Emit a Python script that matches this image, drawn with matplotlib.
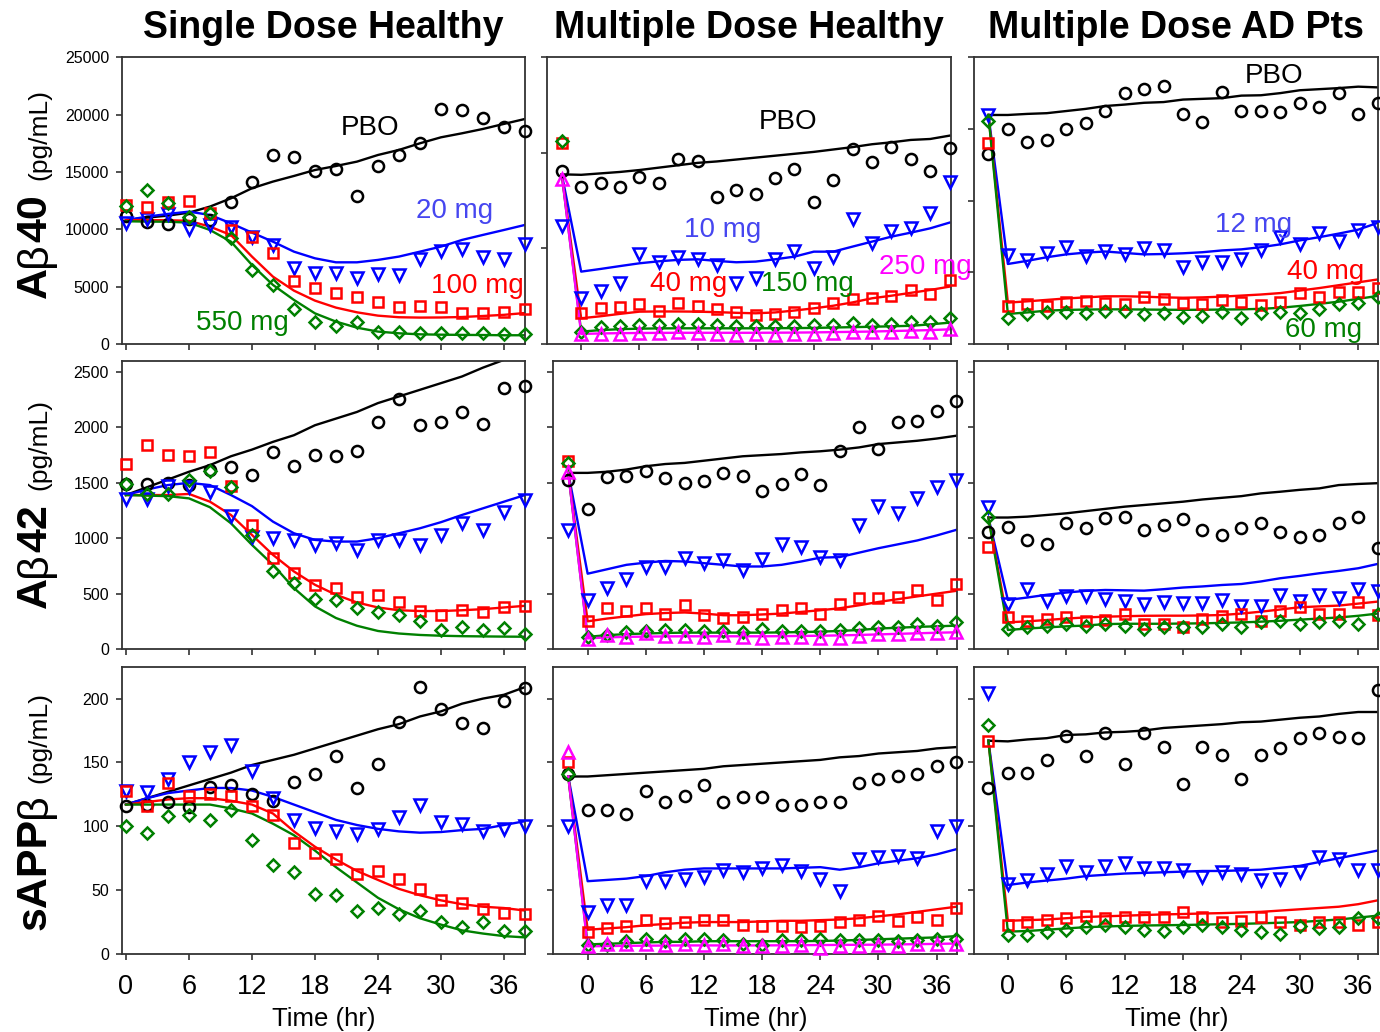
import matplotlib
matplotlib.use('Agg')
import matplotlib.pyplot as plt
from matplotlib import font_manager

installed = {f.name for f in font_manager.fontManager.ttflist}
HAS_NARROW = 'Liberation Sans Narrow' in installed
NARROW = 'Liberation Sans Narrow' if HAS_NARROW else 'Liberation Sans'
plt.rcParams['font.family'] = ['Liberation Sans', 'DejaVu Sans']

# time points (hr)
t_sd = [0, 2, 4, 6, 8, 10, 12, 14, 16, 18, 20, 22, 24, 26, 28, 30, 32, 34, 36, 38]
t_md = [-2, 0, 2, 4, 6, 8, 10, 12, 14, 16, 18, 20, 22, 24, 26, 28, 30, 32, 34, 36, 38]

# ---------------- Abeta40 ----------------
sd40_pbo = [11160, 10610, 10440, 10870, 10810, 12410, 14160, 16450, 16310, 15090, 15230, 12910, 15490, 16450, 17530, 20470, 20380, 19740, 18900, 18610]
sd40_pbo_fit = [10800, 11020, 11190, 11450, 11980, 12700, 13580, 14160, 14650, 15170, 15520, 15900, 16480, 16920, 17500, 18020, 18370, 18750, 19190, 19620]
sd40_20 = [10520, 10900, 11340, 10030, 10380, 10230, 9360, 8630, 6600, 6220, 6220, 5790, 6110, 6020, 7440, 8140, 8260, 7590, 7440, 8720]
sd40_20_fit = [10800, 11100, 11340, 11540, 11250, 10520, 9710, 8920, 8050, 7470, 7120, 7120, 7330, 7620, 8050, 8490, 9070, 9510, 9940, 10380]
sd40_100 = [12120, 11980, 12360, 12500, 11450, 9940, 9360, 7910, 5520, 4860, 4480, 4070, 3660, 3230, 3310, 3230, 2730, 2730, 2760, 3050]
sd40_100_fit = [10800, 10800, 10790, 10740, 10230, 9500, 7620, 5870, 4650, 3780, 3170, 2760, 2470, 2330, 2300, 2310, 2350, 2440, 2540, 2700]
sd40_550 = [12040, 13430, 12330, 11110, 11400, 9220, 6450, 5150, 3050, 1950, 1570, 1950, 1050, 1050, 990, 990, 990, 930, 840, 840]
sd40_550_fit = [10700, 10670, 10660, 10580, 9940, 8920, 6890, 5150, 3840, 2670, 1950, 1420, 1080, 930, 840, 810, 790, 780, 760, 760]

md40_pbo = [18140, 16390, 16810, 16460, 17510, 16810, 19390, 19110, 15420, 16120, 15660, 17340, 18310, 14820, 17160, 20440, 19080, 20650, 19360, 18140, 20480]
md40_pbo_fit = [17750, 17700, 17850, 18000, 18200, 18450, 18700, 18950, 19100, 19300, 19500, 19700, 19900, 20100, 20350, 20600, 20900, 21100, 21350, 21450, 21800]
md40_10 = [12350, 4780, 5580, 6350, 9420, 8550, 9070, 8890, 8270, 6420, 6870, 8890, 9730, 7950, 9140, 13050, 10530, 11820, 12170, 13670, 16920]
md40_10_fit = [17750, 7570, 7850, 8150, 8440, 8650, 8800, 8860, 8690, 8550, 8620, 8860, 9140, 9660, 9660, 10190, 10710, 11230, 11650, 12100, 12700]
md40_40 = [21000, 3280, 3730, 3840, 4190, 3490, 4330, 3980, 3630, 3380, 3040, 3100, 3380, 3730, 4260, 4670, 4780, 5060, 5650, 5200, 6700]
md40_40_fit = [17750, 2690, 2900, 3150, 3380, 3400, 3400, 3380, 3330, 3260, 3210, 3300, 3500, 3730, 4000, 4350, 4780, 5050, 5350, 5650, 6000]
md40_150 = [21280, 1290, 1810, 1880, 1990, 1990, 2090, 2090, 1950, 1880, 1880, 1880, 1880, 1950, 1950, 2230, 1950, 2090, 2270, 2300, 2690]
md40_150_fit = [17750, 1290, 1450, 1550, 1600, 1630, 1640, 1640, 1640, 1640, 1640, 1650, 1660, 1680, 1720, 1760, 1800, 1850, 1900, 2050, 2230]
md40_250 = [17230, 1050, 1050, 1050, 1190, 1120, 1220, 1190, 1050, 940, 1010, 940, 1050, 1010, 1120, 1220, 1220, 1290, 1360, 1290, 1600]
md40_250_fit = [17750, 1050, 1100, 1130, 1150, 1160, 1170, 1170, 1170, 1170, 1170, 1180, 1190, 1210, 1240, 1270, 1300, 1350, 1400, 1450, 1530]

ad40_pbo = [26510, 30000, 28190, 28420, 29950, 30880, 32510, 35070, 35530, 36000, 32140, 31020, 35160, 32560, 32560, 32420, 33670, 33020, 35070, 32050, 33580]
ad40_pbo_fit = [31950, 31950, 32100, 32200, 32500, 32800, 33200, 33400, 33650, 33750, 34100, 34200, 34300, 34650, 34700, 35000, 35400, 35550, 35700, 35900, 35800]
ad40_12 = [31950, 12420, 11720, 12650, 13580, 12280, 13020, 12560, 13440, 13120, 10700, 11440, 11440, 11860, 13120, 14880, 13910, 15530, 14370, 15910, 16370]
ad40_12_fit = [31950, 11160, 11600, 12100, 12500, 12750, 12900, 12700, 12500, 12550, 12650, 12800, 13050, 13200, 13500, 13900, 14450, 14900, 15400, 15950, 16900]
ad40_40 = [28090, 5300, 5580, 5300, 5910, 6050, 5670, 5540, 6510, 6230, 5670, 5580, 6140, 5910, 5440, 5910, 7070, 6510, 7300, 7300, 7770]
ad40_40_fit = [31950, 5770, 5950, 6150, 6350, 6500, 6650, 6650, 6600, 6500, 6450, 6500, 6600, 6750, 6900, 7100, 7450, 7800, 8200, 8600, 9000]
ad40_60 = [31160, 3580, 4140, 4510, 4470, 4330, 4650, 4610, 4190, 4280, 3720, 3950, 4510, 3580, 4280, 4510, 4370, 4840, 5540, 5670, 6600]
ad40_60_fit = [31950, 4190, 4400, 4650, 4750, 4800, 4830, 4830, 4800, 4780, 4760, 4770, 4800, 4830, 4900, 5050, 5300, 5600, 5900, 6300, 6700]

# ---------------- Abeta42 ----------------
sd42_pbo = [1490, 1490, 1500, 1480, 1620, 1640, 1570, 1780, 1650, 1750, 1740, 1790, 2050, 2260, 2020, 2050, 2140, 2030, 2360, 2370]
sd42_pbo_fit = [1390, 1460, 1530, 1600, 1660, 1740, 1800, 1870, 1930, 2020, 2080, 2140, 2220, 2280, 2340, 2400, 2460, 2540, 2610, 2690]
sd42_20 = [1355, 1355, 1470, 1460, 1420, 1200, 1015, 1000, 985, 940, 955, 895, 985, 985, 935, 1030, 1140, 1075, 1240, 1345]
sd42_20_fit = [1390, 1440, 1480, 1500, 1480, 1390, 1290, 1150, 1045, 985, 970, 970, 1000, 1045, 1090, 1145, 1210, 1270, 1330, 1390]
sd42_100 = [1670, 1840, 1750, 1740, 1780, 1470, 1120, 820, 690, 580, 550, 470, 490, 420, 340, 310, 350, 330, 380, 390]
sd42_100_fit = [1390, 1390, 1390, 1400, 1330, 1210, 1030, 850, 700, 580, 490, 420, 375, 350, 343, 343, 350, 360, 375, 390]
sd42_550 = [1490, 1400, 1400, 1530, 1610, 1460, 1030, 700, 600, 450, 440, 370, 330, 310, 250, 170, 200, 170, 190, 140]
sd42_550_fit = [1390, 1385, 1380, 1360, 1280, 1135, 940, 760, 550, 385, 280, 210, 163, 140, 127, 120, 116, 114, 112, 111]

md42_pbo = [1530, 1260, 1550, 1560, 1610, 1540, 1500, 1520, 1590, 1560, 1430, 1490, 1580, 1480, 1790, 2000, 1810, 2050, 2060, 2150, 2240]
md42_pbo_fit = [1590, 1590, 1600, 1620, 1650, 1670, 1680, 1700, 1720, 1740, 1750, 1760, 1775, 1785, 1800, 1820, 1850, 1865, 1880, 1900, 1925]
md42_10 = [1070, 440, 550, 630, 740, 740, 820, 780, 800, 710, 810, 950, 920, 830, 800, 1120, 1290, 1230, 1360, 1460, 1530]
md42_10_fit = [1590, 680, 720, 760, 780, 795, 790, 775, 760, 745, 745, 760, 790, 825, 830, 870, 910, 945, 980, 1025, 1075]
md42_40 = [1700, 250, 370, 340, 370, 320, 400, 310, 280, 290, 320, 350, 370, 320, 410, 460, 460, 470, 530, 440, 590]
md42_40_fit = [1590, 250, 275, 295, 315, 325, 330, 320, 305, 305, 312, 320, 335, 350, 368, 395, 425, 450, 475, 500, 525]
md42_150 = [1680, 105, 127, 151, 163, 172, 172, 163, 163, 151, 181, 163, 163, 163, 172, 193, 202, 202, 226, 211, 241]
md42_150_fit = [1590, 110, 125, 135, 140, 145, 148, 148, 148, 148, 148, 150, 153, 157, 163, 172, 185, 192, 200, 205, 211]
md42_250 = [1600, 90, 127, 111, 142, 117, 117, 111, 127, 111, 102, 111, 111, 96, 102, 117, 133, 133, 142, 142, 157]
md42_250_fit = [1590, 96, 105, 110, 112, 114, 115, 115, 115, 115, 115, 116, 118, 120, 123, 127, 132, 137, 142, 147, 151]

ad42_pbo = [1060, 1100, 985, 945, 1135, 1090, 1185, 1190, 1075, 1120, 1170, 1075, 1030, 1090, 1135, 1055, 1010, 1025, 1135, 1190, 910]
ad42_pbo_fit = [1187, 1187, 1195, 1210, 1225, 1245, 1265, 1285, 1300, 1315, 1330, 1350, 1365, 1380, 1405, 1420, 1437, 1450, 1480, 1490, 1497]
ad42_12 = [1285, 410, 540, 435, 475, 480, 450, 435, 405, 420, 415, 415, 445, 390, 385, 490, 430, 490, 460, 540, 525]
ad42_12_fit = [1187, 443, 465, 490, 510, 525, 533, 530, 527, 540, 555, 565, 578, 587, 610, 639, 660, 684, 705, 729, 768]
ad42_40 = [925, 285, 255, 275, 290, 255, 260, 320, 225, 225, 200, 270, 300, 320, 255, 345, 375, 320, 315, 420, 305]
ad42_40_fit = [1187, 241, 250, 262, 275, 285, 292, 296, 300, 301, 301, 303, 307, 320, 337, 357, 377, 385, 392, 410, 428]
ad42_60 = [1195, 185, 195, 210, 225, 210, 225, 210, 180, 200, 195, 200, 230, 195, 245, 255, 230, 245, 255, 230, 315]
ad42_60_fit = [1187, 172, 185, 195, 205, 212, 225, 228, 228, 228, 230, 232, 236, 240, 247, 255, 265, 275, 285, 300, 320]

# ---------------- sAPPbeta ----------------
sdapp_pbo = [116, 117, 119, 115, 131, 132, 125, 120, 135, 141, 155, 130, 149, 182, 209, 192, 181, 177, 198, 208]
sdapp_pbo_fit = [117, 122, 127, 132, 137, 142, 148, 152, 156, 161, 166, 171, 176, 180, 186, 190, 196, 200, 203, 209]
sdapp_20 = [128, 127, 137, 150, 158, 164, 143, 122, 105, 99, 96, 94, 98, 107, 117, 103, 102, 96, 98, 100]
sdapp_20_fit = [117, 122, 126, 128, 130, 130, 128, 123, 117, 111, 105, 101, 98, 96, 95, 95.5, 97, 98, 101, 104]
sdapp_100 = [128, 116, 134, 124, 125, 124, 116, 109, 87, 79, 74, 63, 65, 59, 51, 42, 40, 35, 32, 31]
sdapp_100_fit = [117, 119, 121, 122, 122, 120, 117, 110, 96, 84, 74, 65, 58, 51, 46, 42, 39, 37, 36, 34]
sdapp_550 = [100, 95, 108, 109, 105, 113, 89, 70, 64, 47, 46, 34, 36, 31, 34, 25, 21, 25, 18, 18]
sdapp_550_fit = [117, 117, 117, 117, 117, 114, 110, 102, 93, 81, 68, 56, 44, 35, 28, 23, 18.5, 16, 14, 13]

mdapp_pbo = [141, 113, 113, 110, 128, 119, 124, 132, 119, 123, 123, 117, 117, 119, 119, 134, 137, 139, 141, 147, 150]
mdapp_pbo_fit = [139, 139, 140, 141, 142, 143, 144, 145, 147, 148, 149, 150, 151, 152, 154, 155, 157, 158, 159, 161, 162]
mdapp_10 = [100, 33, 38, 38, 57, 57, 59, 60, 66, 64, 67, 70, 65, 59, 49, 74, 76, 77, 75, 96, 100]
mdapp_10_fit = [139, 57, 58, 59, 61, 64, 66, 67, 67, 67, 67, 67, 67.5, 68, 66, 68, 71, 73, 75, 78, 82]
mdapp_40 = [150, 17, 20, 22, 27, 24, 25, 27, 27, 23, 22, 22, 21, 22, 25, 27, 30, 26, 29, 27, 36]
mdapp_40_fit = [139, 19, 20, 21, 22.5, 23.5, 24.5, 25, 25, 25, 25.5, 26, 26, 26.5, 27, 28, 29.5, 31, 33, 35, 37]
mdapp_150 = [141, 7, 7, 10, 12, 10, 12, 12, 11, 8, 7, 11, 11, 12, 11, 11, 11, 10, 11, 12, 12]
mdapp_150_fit = [139, 7.5, 8, 8.5, 9, 9.5, 9.5, 10, 10, 10, 10, 10, 10, 10.2, 10.5, 11, 11.5, 12, 12.5, 13, 14]
mdapp_250 = [158, 6, 8, 8, 8, 7, 8, 7, 8, 6, 6, 6, 7, 5, 6, 6, 7, 6, 8, 8, 8]
mdapp_250_fit = [139, 6, 6.2, 6.4, 6.5, 6.6, 6.7, 6.7, 6.7, 6.7, 6.7, 6.8, 6.9, 7.0, 7.1, 7.2, 7.3, 7.5, 7.7, 7.9, 8.2]

adapp_pbo = [130, 142, 142, 152, 171, 155, 173, 149, 173, 162, 133, 162, 156, 137, 156, 161, 169, 173, 170, 169, 207]
adapp_pbo_fit = [167, 166.5, 168, 169, 171.5, 172, 173.5, 174, 175, 177, 178, 179, 180, 181.5, 182, 183.5, 185, 186, 188, 189.5, 189.5]
adapp_12 = [204, 55, 58, 63, 69, 64, 69, 71, 67, 67, 66, 60, 64, 63, 58, 59, 64, 76, 74, 66, 66]
adapp_12_fit = [167, 54, 56, 57.5, 59, 61, 62, 63, 63.5, 64, 64.5, 65, 65, 65.5, 66, 67.5, 69, 72, 75, 78, 81]
adapp_40 = [167, 23, 25, 27, 28, 30, 28, 29, 29, 29, 33, 29, 25, 26, 29, 25, 23, 25, 25, 23, 25]
adapp_40_fit = [167, 26, 26.5, 27, 28, 29, 29.5, 30, 30.5, 31, 31.3, 31.7, 32, 32.5, 33, 34, 35, 36, 37, 39, 42]
adapp_60 = [179, 15, 15, 17, 19, 21, 23, 21, 19, 18, 21, 23, 21, 19, 17, 16, 22, 20, 21, 28, 28]
adapp_60_fit = [167, 17.5, 18, 19, 20, 21, 21.5, 22, 22.3, 22.5, 22.7, 23, 23.3, 23.6, 24, 24.5, 25, 26, 27, 28.5, 30]

col_titles = ['Single Dose Healthy', 'Multiple Dose Healthy', 'Multiple Dose AD Pts']
x_ticks = [0, 6, 12, 18, 24, 30, 36]

# style per dose group: colour, marker, marker size
PBO = ('black', 'o', 8)
LOW = ('#0000ff', 'v', 8.5)
MID = ('#ff0000', 's', 7.2)
HIGH = ('#008000', 'D', 6.4)
TOP = ('#ff00ff', '^', 8.5)
TXT_BLUE = '#4646f0'

sd_groups = [PBO, LOW, MID, HIGH]
md_groups = [PBO, LOW, MID, HIGH, TOP]

# rows x cols: (time, [(obs, fit)], groups, ylim top, yticks)
panels = [
    [(t_sd, [(sd40_pbo, sd40_pbo_fit), (sd40_20, sd40_20_fit), (sd40_100, sd40_100_fit), (sd40_550, sd40_550_fit)], sd_groups, 25000, range(0, 25001, 5000)),
     (t_md, [(md40_pbo, md40_pbo_fit), (md40_10, md40_10_fit), (md40_40, md40_40_fit), (md40_150, md40_150_fit), (md40_250, md40_250_fit)], md_groups, 30000, range(0, 30001, 10000)),
     (t_md, [(ad40_pbo, ad40_pbo_fit), (ad40_12, ad40_12_fit), (ad40_40, ad40_40_fit), (ad40_60, ad40_60_fit)], sd_groups, 40000, range(0, 40001, 10000))],
    [(t_sd, [(sd42_pbo, sd42_pbo_fit), (sd42_20, sd42_20_fit), (sd42_100, sd42_100_fit), (sd42_550, sd42_550_fit)], sd_groups, 2600, range(0, 2501, 500)),
     (t_md, [(md42_pbo, md42_pbo_fit), (md42_10, md42_10_fit), (md42_40, md42_40_fit), (md42_150, md42_150_fit), (md42_250, md42_250_fit)], md_groups, 2600, range(0, 2501, 500)),
     (t_md, [(ad42_pbo, ad42_pbo_fit), (ad42_12, ad42_12_fit), (ad42_40, ad42_40_fit), (ad42_60, ad42_60_fit)], sd_groups, 2600, range(0, 2501, 500))],
    [(t_sd, [(sdapp_pbo, sdapp_pbo_fit), (sdapp_20, sdapp_20_fit), (sdapp_100, sdapp_100_fit), (sdapp_550, sdapp_550_fit)], sd_groups, 225, range(0, 201, 50)),
     (t_md, [(mdapp_pbo, mdapp_pbo_fit), (mdapp_10, mdapp_10_fit), (mdapp_40, mdapp_40_fit), (mdapp_150, mdapp_150_fit), (mdapp_250, mdapp_250_fit)], md_groups, 225, range(0, 201, 50)),
     (t_md, [(adapp_pbo, adapp_pbo_fit), (adapp_12, adapp_12_fit), (adapp_40, adapp_40_fit), (adapp_60, adapp_60_fit)], sd_groups, 225, range(0, 201, 50))],
]

# dose labels on the top row: (text, colour, x frac, baseline y frac)
dose_labels = [
    [('PBO', 'black', 0.615, 0.729), ('20 mg', TXT_BLUE, 0.826, 0.44), ('100 mg', '#ff0000', 0.881, 0.178), ('550 mg', '#008000', 0.2985, 0.049)],
    [('PBO', 'black', 0.598, 0.749), ('10 mg', TXT_BLUE, 0.435, 0.374), ('40 mg', '#ff0000', 0.351, 0.186), ('150 mg', '#008000', 0.644, 0.186), ('250 mg', '#ff00ff', 0.937, 0.243)],
    [('PBO', 'black', 0.742, 0.909), ('12 mg', TXT_BLUE, 0.690, 0.392), ('40 mg', '#ff0000', 0.870, 0.2257), ('60 mg', '#008000', 0.864, 0.0234)],
]

fig = plt.figure(figsize=(13.8, 10.32), dpi=100)
col_left = [0.0886, 0.4009, 0.7060]
col_width = [0.2918, 0.2928, 0.2928]
row_bottom = [0.6667, 0.3711, 0.0756]
row_height = [0.2778, 0.2791, 0.2784]
col_xlim = [(-0.35, 38.0), (-3.55, 38.13), (-3.45, 38.07)]
spine_col = '#333333'
xtick_size = 21 if HAS_NARROW else 19.5

for r in range(3):
    for c in range(3):
        left = col_left[c]
        if r == 0 and c == 1:
            left = 0.3962  # this panel sits a little to the left in the original
        ax = fig.add_axes([left, row_bottom[r], col_width[c], row_height[r]])
        t, series, groups, ytop, yticks = panels[r][c]
        for (obs, fit), (color, mk, ms) in zip(series, groups):
            ax.plot(t, fit, color=color, lw=1.7, zorder=2)
        for (obs, fit), (color, mk, ms) in zip(series, groups):
            ax.plot(t, obs, linestyle='none', marker=mk, ms=ms, mfc='none', mec=color,
                    mew=1.8, clip_on=False, zorder=3)
        ax.set_xlim(*col_xlim[c])
        ax.set_ylim(0, ytop)
        ax.set_xticks(x_ticks)
        ax.set_yticks(list(yticks))
        for sp in ax.spines.values():
            sp.set_color(spine_col)
            sp.set_linewidth(1.3)
        ax.tick_params(direction='out', length=4.5, width=1.2, color=spine_col)
        ax.tick_params(axis='y', labelsize=11.5, pad=5)
        ax.tick_params(axis='x', labelsize=xtick_size, pad=10)
        if c > 0:
            ax.set_yticklabels([])
        if r < 2:
            ax.set_xticklabels([])
        else:
            for lab in ax.get_xticklabels():
                lab.set_family(NARROW)
            ax.set_xlabel('Time (hr)', fontsize=xtick_size - 1, family=NARROW, labelpad=5)
        if r == 0:
            ax.set_title(col_titles[c], fontsize=27, fontweight='bold', pad=14)
            for txt, color, fx, fy in dose_labels[c]:
                ax.text(fx, fy, txt, color=color, fontsize=20, ha='center', va='baseline',
                        transform=ax.transAxes, zorder=4)

# row labels built piece by piece (bold letters, plain beta, small unit)
renderer = fig.canvas.get_renderer()


def stack_label(pieces, x_px, y_px):
    x = x_px / 1380
    y = 1 - y_px / 1032
    for txt, size, weight, gap in pieces:
        y += gap / 1032
        t = fig.text(x, y, txt, fontsize=size, fontweight=weight, rotation=90,
                     rotation_mode='anchor', ha='left', va='baseline')
        y += t.get_window_extent(renderer).height / 1032


stack_label([('A', 31, 'bold', 0), ('\u03b2', 31, 'normal', 0), ('40', 31, 'bold', 0), ('(pg/mL)', 19, 'normal', 14)], 46, 298)
stack_label([('A', 31, 'bold', 0), ('\u03b2', 31, 'normal', 0), ('42', 31, 'bold', 0), ('(pg/mL)', 19, 'normal', 14)], 46, 608)
stack_label([('sAPP', 31, 'bold', 0), ('\u03b2', 31, 'normal', 0), ('(pg/mL)', 19, 'normal', 10)], 46, 930)

fig.savefig('out.png', dpi=100)
